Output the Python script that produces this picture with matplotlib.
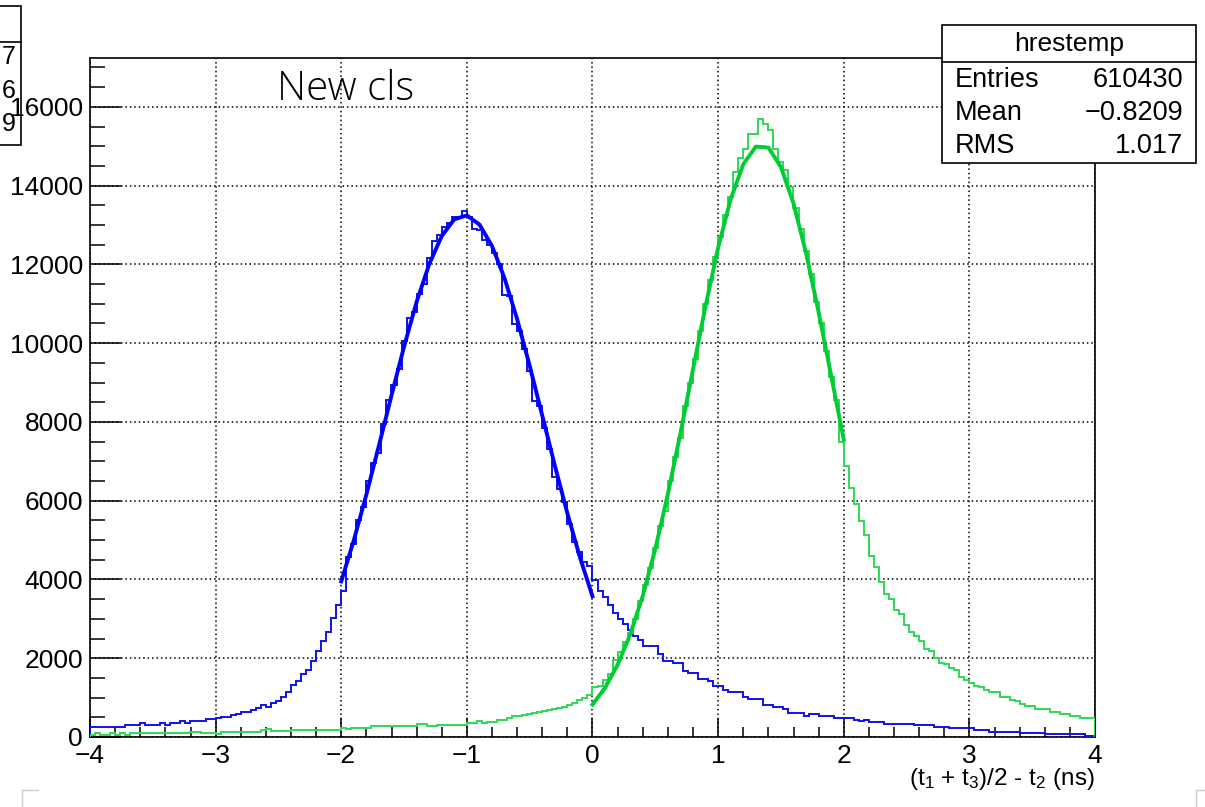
import numpy as np
import matplotlib
matplotlib.use('Agg')
import matplotlib.pyplot as plt
from matplotlib.patches import Rectangle
from matplotlib.lines import Line2D

plt.rcParams['font.family'] = ['Liberation Sans', 'DejaVu Sans']
plt.rcParams['mathtext.fontset'] = 'custom'
plt.rcParams['mathtext.rm'] = 'Liberation Sans'
plt.rcParams['mathtext.default'] = 'regular'

# histogram binning (ROOT style: 200 bins from -4 to 4)
nbins, xlow, xup = 200, -4.0, 4.0

# blue histogram (bin contents, left to right)
blue_counts = [
    264, 264, 264, 264, 264, 264, 264, 306, 306, 306,
    350, 306, 306, 306, 350, 306, 350, 350, 408, 350,
    408, 408, 408, 451, 451, 476, 510, 510, 553, 596,
    638, 638, 680, 732, 817, 766, 851, 902, 1004, 1132,
    1328, 1413, 1600, 1702, 1940, 2196, 2434, 2664, 3021, 3361,
    3700, 4570, 4900, 5500, 5850, 6500, 6950, 7200, 7950, 8550,
    8950, 9350, 10050, 10650, 10800, 11250, 11500, 12150, 12600, 12750,
    12950, 13050, 13200, 13210, 13350, 13200, 12910, 12870, 12620, 12500,
    12300, 12000, 11230, 11200, 10480, 10300, 9850, 9300, 8530, 8400,
    7850, 7300, 6600, 6300, 5960, 5400, 4950, 4700, 4450, 4350,
    3983, 3710, 3557, 3344, 3149, 3004, 2876, 2723, 2562, 2451,
    2323, 2323, 2298, 2110, 1923, 1923, 1872, 1872, 1668, 1617,
    1617, 1472, 1472, 1413, 1302, 1302, 1191, 1132, 1132, 1132,
    1004, 953, 953, 953, 817, 817, 766, 766, 706, 621,
    621, 621, 536, 579, 579, 536, 536, 536, 494, 494,
    477, 477, 443, 409, 443, 391, 391, 391, 340, 340,
    340, 340, 340, 340, 306, 306, 306, 306, 264, 264,
    264, 221, 221, 221, 221, 221, 179, 179, 179, 119,
    119, 119, 119, 119, 119, 94, 94, 94, 94, 94,
    85, 85, 85, 85, 85, 68, 68, 68, 26, 26,
]

# green histogram
green_counts = [
    51, 94, 51, 51, 94, 51, 94, 51, 110, 110,
    110, 110, 110, 110, 110, 110, 110, 110, 110, 110,
    136, 136, 110, 110, 110, 85, 128, 128, 128, 128,
    128, 128, 128, 128, 170, 196, 153, 153, 153, 153,
    179, 179, 179, 179, 179, 179, 179, 179, 179, 179,
    238, 196, 238, 238, 238, 238, 272, 272, 272, 272,
    272, 272, 272, 272, 272, 323, 323, 272, 272, 306,
    306, 306, 306, 306, 306, 357, 357, 408, 357, 391,
    391, 425, 425, 477, 530, 542, 560, 583, 617, 630,
    650, 683, 708, 740, 767, 817, 875, 933, 1000, 1066,
    1260, 1300, 1450, 1600, 1950, 2150, 2400, 2650, 3000, 3450,
    3850, 4300, 4800, 5350, 5750, 6500, 7100, 7600, 8400, 9000,
    9600, 10300, 11000, 11600, 12200, 12700, 13250, 13700, 14350, 14690,
    14920, 15320, 15320, 15680, 15560, 15410, 14920, 14600, 14390, 13970,
    13420, 12900, 12350, 11750, 11050, 10500, 9800, 9150, 8550, 7500,
    6876, 6323, 5923, 5472, 5132, 4595, 4323, 3940, 3642, 3515,
    3234, 3115, 2834, 2664, 2553, 2434, 2238, 2196, 2008, 1872,
    1855, 1753, 1702, 1532, 1447, 1362, 1302, 1259, 1191, 1132,
    1132, 1004, 1004, 936, 902, 834, 791, 791, 706, 706,
    706, 647, 647, 579, 579, 536, 536, 494, 494, 494,
]

# gaussian fit curves, sampled every 0.1 over the fit range
blue_fit_range = (-2.0, 0.0)
blue_fit = [3951, 4995, 6157, 7400, 8673, 9913, 11047, 12004, 12720, 13144,
            13243, 13012, 12467, 11647, 10609, 9425, 8163, 6895, 5680, 4562, 3572]
green_fit_range = (0.0, 2.0)
green_fit = [823, 1248, 1832, 2603, 3584, 4778, 6168, 7711, 9334, 10943,
             12424, 13658, 14540, 14990, 14967, 14470, 13549, 12284, 10785, 9171, 7552]

stats_name = 'hrestemp'
stats_rows = [('Entries', '610430'), ('Mean', '\u22120.8209'), ('RMS', '1.017')]

W, H = 1205, 807
fig = plt.figure(figsize=(W / 100, H / 100), dpi=100)
ax = fig.add_axes([90 / W, 1 - 737 / H, (1095 - 90) / W, (737 - 58) / H])

edges = np.linspace(xlow, xup, nbins + 1)
ax.stairs(blue_counts, edges, color='#1010f0', lw=1.4, zorder=3)
ax.stairs(green_counts, edges, color='#2fd858', lw=1.4, zorder=3)
ax.plot(np.linspace(*blue_fit_range, len(blue_fit)), blue_fit, color='#0000ff', lw=2.8, zorder=4)
ax.plot(np.linspace(*green_fit_range, len(green_fit)), green_fit, color='#00cc33', lw=2.8, zorder=4)

ax.set_xlim(xlow, xup)
ax.set_ylim(0, 17240)
ax.set_xticks(np.arange(-4, 5, 1))
ax.set_xticks(np.arange(-4, 4.01, 0.2), minor=True)
ax.set_yticks(np.arange(0, 16001, 2000))
ax.set_yticks(np.arange(0, 17241, 500), minor=True)
ax.grid(True, which='major', color='black', linestyle=(0, (1, 1.9)), lw=1.1)
ax.set_axisbelow(True)

ax.tick_params(axis='both', which='both', direction='in', width=1.1, labelsize=19, color='black')
ax.tick_params(axis='y', which='major', length=22, pad=5)
ax.tick_params(axis='y', which='minor', length=11)
ax.tick_params(axis='x', which='major', length=14, pad=5)
ax.tick_params(axis='x', which='minor', length=7)
for s in ax.spines.values():
    s.set_linewidth(1.2)

fig.text(277 / W, 1 - 100 / H, 'New cls', fontsize=29, family=['Open Sans', 'DejaVu Sans'],
         fontweight='light', ha='left', va='baseline')

fig.text(1095 / W, 1 - 779 / H, r'(t$_1$ + t$_3$)/2 - t$_2$ (ns)', fontsize=17.5,
         ha='right', va='center')

# stats box
bx0, bx1, by0, by1, bsep = 942, 1196, 25, 163, 62
fig.add_artist(Rectangle((bx0 / W, 1 - by1 / H), (bx1 - bx0) / W, (by1 - by0) / H,
                         transform=fig.transFigure, facecolor='white', edgecolor='black',
                         lw=1.2, zorder=10))
fig.add_artist(Line2D([bx0 / W, bx1 / W], [1 - bsep / H, 1 - bsep / H],
                      transform=fig.transFigure, color='black', lw=1.2, zorder=11))
fig.text((bx0 + bx1) / 2 / W, 1 - 44 / H, stats_name, fontsize=19, ha='center', va='center', zorder=12)
for (lab, val), yy in zip(stats_rows, [80, 113, 146]):
    fig.text(955 / W, 1 - yy / H, lab, fontsize=19.5, ha='left', va='center', zorder=12)
    fig.text(1183 / W, 1 - yy / H, val, fontsize=19.5, ha='right', va='center', zorder=12)

# partially visible stats box on the left edge (drawn under the axes labels)
fig.add_artist(Rectangle((-10 / W, 1 - 145 / H), 31 / W, 139 / H, transform=fig.transFigure,
                         facecolor='white', edgecolor='black', lw=1.2, zorder=-2))
fig.add_artist(Line2D([0, 21 / W], [1 - 42 / H, 1 - 42 / H], transform=fig.transFigure,
                      color='black', lw=1.2, zorder=-1))
for ch, yy in zip(['7', '6', '9'], [57, 91, 124]):
    fig.text(16 / W, 1 - yy / H, ch, fontsize=18, ha='right', va='center', zorder=-1)

# small corner marks at the bottom
for x0 in (22, 1196):
    fig.add_artist(Line2D([x0 / W, x0 / W], [0, 1 - 790 / H], transform=fig.transFigure,
                          color='#cccccc', lw=1))
    fig.add_artist(Line2D([x0 / W, (x0 + 16) / W], [1 - 790 / H, 1 - 790 / H],
                          transform=fig.transFigure, color='#cccccc', lw=1))

fig.savefig('out.png', dpi=100, facecolor='white')
